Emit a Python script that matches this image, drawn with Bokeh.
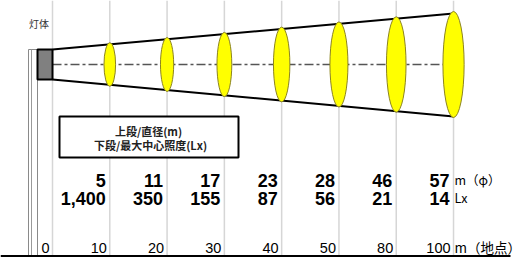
from bokeh.plotting import figure
from bokeh.models import Range1d, ColumnDataSource
from bokeh.core.properties import value
from bokeh.embed import file_html
from bokeh.resources import INLINE

# ---- data ----
distances = [0, 10, 20, 30, 40, 50, 80, 100]          # m (地点)
diameters = [5, 11, 17, 23, 28, 46, 57]               # m (φ) at 10..100 m
illuminance = [1400, 350, 155, 87, 56, 21, 14]        # Lx at 10..100 m
legend_lines = ["上段/直径(m)", "下段/最大中心照度(Lx)"]
unit_diam = "m（φ）"
unit_lux = "Lx"
unit_dist = "m（地点）"
lamp_label = "灯体"

# ---- layout constants (style) ----
PX = 57.29                     # pixels per column
W, H = 522, 257
x0 = -52 / PX
xr = Range1d(x0, x0 + W / PX)
yr = Range1d(H, 0)             # y grows downward

p = figure(width=W, height=H, x_range=xr, y_range=yr, output_backend="svg",
           toolbar_location=None, min_border=0)
p.axis.visible = False
p.grid.visible = False
p.outline_line_color = None
p.background_fill_color = "white"

n = len(distances)
idx = list(range(n))
cjk = value("Noto Sans CJK JP")
lat = value("Liberation Sans")

# vertical guide lines
p.segment(x0=idx, y0=[0] * n, x1=idx, y1=[255] * n, line_color="#d6d6d6", line_width=1.5)

# pole
p.quad(left=[-24 / PX], right=[-15 / PX], top=[49], bottom=[255],
       fill_color="white", line_color="#8a8a8a", line_width=1)
p.segment(x0=[-21 / PX], y0=[49], x1=[-21 / PX], y1=[255], line_color="#9a9a9a", line_width=1)

# cone
top0, bot0, top1, bot1 = 49, 79, 13, 116
cy = (top0 + bot0) / 2
p.line([0, n - 1], [top0, top1], line_color="black", line_width=2)
p.line([0, n - 1], [bot0, bot1], line_color="black", line_width=2)
p.line([0, n - 1], [cy, cy], line_color="#555555", line_width=1.5, line_dash="9 3 3 3")

# ellipses at each distance point
ex = idx[1:]
eh = [(bot0 - top0) + ((bot1 - top1) - (bot0 - top0)) * i / (n - 1) + 3 for i in ex]
ew = [(10 + 1.6 * i) / PX for i in ex]
p.ellipse(x=ex, y=[cy] * len(ex), width=ew, height=eh,
          fill_color="#ffff00", line_color="#8c8420", line_width=1)

# lamp body
p.quad(left=[-15 / PX], right=[0], top=[top0], bottom=[bot0],
       fill_color="#808080", line_color="black", line_width=2)
p.text(x=[-13.5 / PX], y=[23], text=[lamp_label], text_font=cjk, text_font_size="10px",
       text_color="#333333", text_align="center", text_baseline="middle")

# legend box
p.quad(left=[7 / PX], right=[186 / PX], top=[116], bottom=[157],
       fill_color="white", line_color="black", line_width=2)
p.text(x=[96 / PX, 98 / PX], y=[130, 144], text=legend_lines, text_font=cjk,
       text_font_size="11px", text_font_style="bold", text_color="#222222",
       text_align="center", text_baseline="middle")

# value rows
src = ColumnDataSource(dict(
    x=ex,
    d=[str(v) for v in diameters],
    l=[f"{v:,}" for v in illuminance],
))
p.text(x="x", y=179.5, text="d", source=src, text_font=lat, text_font_style="bold",
       text_font_size="18px", text_align="right", text_baseline="middle", x_offset=-4)
p.text(x="x", y=198, text="l", source=src, text_font=lat, text_font_style="bold",
       text_font_size="18px", text_align="right", text_baseline="middle", x_offset=-4)

# distance labels
p.text(x=idx, y=[247] * n, text=[str(v) for v in distances], text_font=lat,
       text_font_size="14.5px", text_align="right", text_baseline="middle", x_offset=-3)

# units
last = n - 1
p.text(x=[last, last, last], y=[179, 197, 246], text=[unit_diam, unit_lux, unit_dist],
       text_font=cjk, text_font_size=["12.5px", "12.5px", "13.5px"], text_align="left",
       text_baseline="middle", x_offset=1)

# base line
p.segment(x0=[-52 / PX], y0=[255.5], x1=[458 / PX], y1=[255.5], line_color="black", line_width=2)

open("out.html", "w").write(file_html(p, INLINE))
